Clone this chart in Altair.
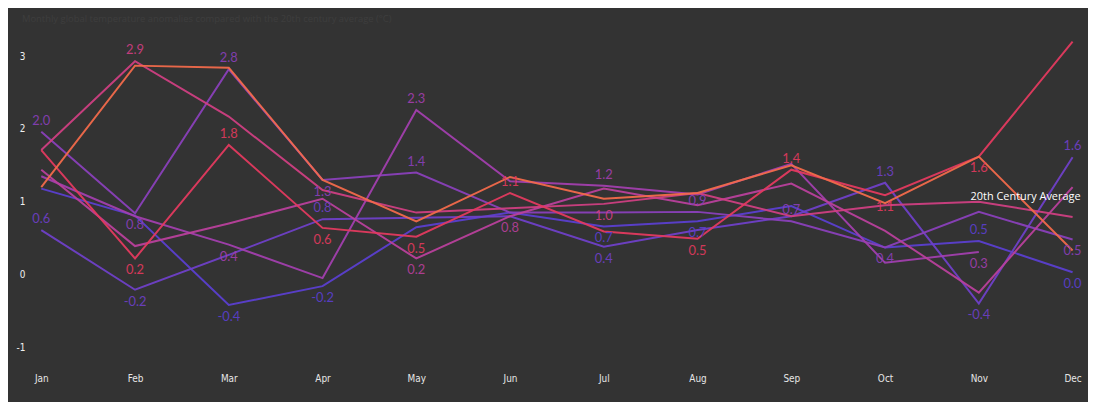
import altair as alt
import pandas as pd

months = ["Jan", "Feb", "Mar", "Apr", "May", "Jun", "Jul", "Aug", "Sep", "Oct", "Nov", "Dec"]

series_names = ["2016", "2017", "2018", "2019", "2020", "2021", "2022", "2023"]
series_colors = ["#5b3fd0", "#6f40c8", "#8a40bb", "#a23fae", "#b9409c", "#cf3f82", "#e33a5f", "#f26a4b"]

s2016 = [1.18, 0.81, -0.42, -0.16, 0.65, 0.85, 0.66, 0.73, 0.94, 0.37, 0.46, 0.03]
s2017 = [0.61, -0.21, 0.27, 0.76, 0.78, 0.80, 0.38, 0.61, 0.80, 1.26, -0.40, 1.61]
s2018 = [1.96, 0.84, 2.82, 1.30, 1.40, 0.85, 0.85, 0.86, 0.73, 0.37, 0.86, 0.48]
s2019 = [1.35, 0.80, 0.41, -0.05, 2.26, 1.28, 1.22, 1.10, 1.52, 0.16, 0.31, None]
s2020 = [1.44, 0.39, 0.70, 1.04, 0.22, 0.80, 1.18, 0.95, 1.25, 0.60, -0.25, 1.20]
s2021 = [1.71, 2.93, 2.17, 1.16, 0.85, 0.91, 0.97, 1.12, 0.80, 0.95, 1.00, 0.79]
s2022 = [1.71, 0.22, 1.78, 0.64, 0.52, 1.12, 0.59, 0.49, 1.44, 1.09, 1.62, 3.20]
s2023 = [1.20, 2.87, 2.84, 1.30, 0.73, 1.34, 1.04, 1.12, 1.50, 0.98, 1.62, 0.33]

all_series = [s2016, s2017, s2018, s2019, s2020, s2021, s2022, s2023]

# labelled points: (series, month)
labels_above = [
    ("2018", "Jan"), ("2017", "Jan"),
    ("2021", "Feb"),
    ("2018", "Mar"), ("2022", "Mar"),
    ("2017", "Apr"),
    ("2019", "May"), ("2018", "May"),
    ("2022", "Jun"),
    ("2019", "Jul"),
    ("2018", "Aug"),
    ("2022", "Sep"), ("2018", "Sep"),
    ("2017", "Oct"),
    ("2016", "Nov"),
    ("2017", "Dec"),
]
labels_below = [
    ("2018", "Feb"), ("2022", "Feb"), ("2017", "Feb"),
    ("2019", "Mar"), ("2016", "Mar"),
    ("2018", "Apr"), ("2022", "Apr"), ("2016", "Apr"),
    ("2022", "May"), ("2020", "May"),
    ("2020", "Jun"),
    ("2021", "Jul"), ("2016", "Jul"), ("2017", "Jul"),
    ("2016", "Aug"), ("2022", "Aug"),
    ("2022", "Oct"), ("2018", "Oct"),
    ("2022", "Nov"), ("2019", "Nov"), ("2017", "Nov"),
    ("2018", "Dec"), ("2016", "Dec"),
]

annotation_text = "20th Century Average"
annotation_month = "Dec"
annotation_value = 1.06

title_text = "Monthly global temperature anomalies compared with the 20th century average (°C)"

rows = []
for name, vals in zip(series_names, all_series):
    for m, v in zip(months, vals):
        if v is not None:
            rows.append({"series": name, "month": m, "value": v})
df = pd.DataFrame(rows)
lookup = {(r["series"], r["month"]): r["value"] for r in rows}


def label_df(pairs):
    out = []
    for s, m in pairs:
        v = lookup[(s, m)]
        out.append({"series": s, "month": m, "value": v, "label": f"{v:.1f}"})
    return pd.DataFrame(out)


df_above = label_df(labels_above)
df_below = label_df(labels_below)
df_ann = pd.DataFrame([{"month": annotation_month, "value": annotation_value, "label": annotation_text}])

narrow = "Liberation Sans Narrow, DejaVu Sans Condensed, sans-serif"

x_enc = alt.X(
    "month:O",
    sort=months,
    scale=alt.Scale(type="point", padding=0.122),
    axis=alt.Axis(
        labelAngle=0, domain=False, ticks=False, grid=False, labelPadding=15,
        labelColor="#e6e6e6", labelFontSize=10, labelFont=narrow, title=None,
    ),
)
y_enc = alt.Y(
    "value:Q",
    scale=alt.Scale(domain=[-1.16, 3.342], nice=False, zero=False),
    axis=alt.Axis(
        values=[-1, 0, 1, 2, 3], labelExpr="toString(datum.value)", grid=False,
        domain=False, ticks=False, labelColor="#f0f0f0", labelFontSize=10,
        labelFont=narrow, labelPadding=5, title=None,
    ),
)
color_enc = alt.Color(
    "series:N",
    scale=alt.Scale(domain=series_names, range=series_colors),
    legend=None,
)

lines = alt.Chart(df).mark_line(strokeWidth=2, opacity=0.95).encode(
    x=x_enc, y=y_enc, color=color_enc, detail="series:N"
)

text_above = alt.Chart(df_above).mark_text(
    fontSize=13, dy=-11, font="Lato", opacity=0.9
).encode(x=alt.X("month:O", sort=months), y="value:Q", text="label:N", color=color_enc)

text_below = alt.Chart(df_below).mark_text(
    fontSize=13, dy=12, font="Lato", opacity=0.9
).encode(x=alt.X("month:O", sort=months), y="value:Q", text="label:N", color=color_enc)

ann = alt.Chart(df_ann).mark_text(
    fontSize=11, align="right", dx=8, font="Open Sans", color="#ffffff"
).encode(x=alt.X("month:O", sort=months), y="value:Q", text="label:N")

chart = (
    alt.layer(lines, text_above, text_below, ann)
    .properties(
        width=1062,
        height=330,
        padding={"left": 22, "top": 22, "right": 4, "bottom": 42},
        autosize=alt.AutoSizeParams(type="none"),
        background="#333333",
        title=alt.TitleParams(
            title_text, color="#3e3e3e", fontSize=9.5, anchor="start",
            offset=8, dx=6, font="Open Sans", fontWeight="normal",
        ),
    )
    .configure_view(stroke=None)
)

chart.save("out.html", embed_options={"renderer": "svg", "actions": False})
